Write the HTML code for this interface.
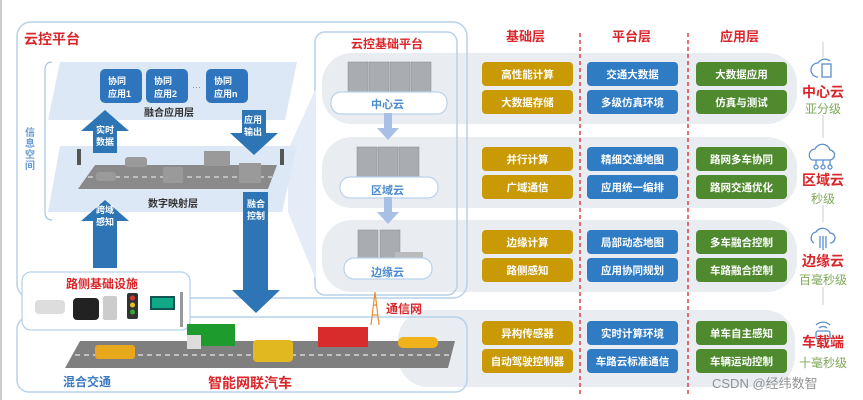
<!DOCTYPE html>
<html><head><meta charset="utf-8"><style>
html,body{margin:0;padding:0;background:#fff;}
svg{display:block;font-family:"Liberation Sans","Noto Sans CJK SC",sans-serif;}
.b{font-weight:bold;}
</style></head><body>
<svg width="863" height="400" viewBox="0 0 863 400" xmlns="http://www.w3.org/2000/svg">
<rect x="0" y="0" width="2" height="400" fill="#ccc"/>
<!-- right bands -->
<g fill="#e9edf2">
<rect x="322" y="53" width="475" height="71" rx="30"/>
<rect x="322" y="137" width="475" height="71" rx="30"/>
<rect x="322" y="220" width="475" height="72" rx="30"/>
<rect x="398" y="310" width="397" height="77" rx="30"/>
</g>
<!-- outer boxes -->
<rect x="17" y="22" width="450" height="276" rx="14" fill="none" stroke="#b8d2ea" stroke-width="1.5"/>
<rect x="17" y="317" width="450" height="75" rx="12" fill="none" stroke="#b8d2ea" stroke-width="1.5"/>
<rect x="315" y="32" width="142" height="263" rx="10" fill="none" stroke="#b8d2ea" stroke-width="1.5"/>
<text x="24" y="44" fill="#d9262b" font-size="14" class="b">云控平台</text>
<text x="351" y="48" fill="#d9262b" font-size="12" class="b">云控基础平台</text>
<!-- wedge -->
<polygon points="288,150 316,88 316,280 288,212" fill="#e3ecf7"/>
<!-- bracket -->
<path d="M52 62 Q45 62 45 70 L45 212 Q45 220 52 220" fill="none" stroke="#a9c4e2" stroke-width="1.2"/>
<text fill="#6a9bd0" font-size="10" class="b"><tspan x="25" y="136">信</tspan><tspan x="25" y="147">息</tspan><tspan x="25" y="158">空</tspan><tspan x="25" y="169">间</tspan></text>
<!-- layers -->
<polygon points="60,62 297,62 285,120 48,120" fill="#dce8f5"/>
<polygon points="60,146 297,146 282,212 48,212" fill="#dce8f5"/>
<g fill="#2f75bd">
<rect x="100" y="69" width="42" height="34" rx="5"/>
<rect x="146" y="69" width="42" height="34" rx="5"/>
<rect x="206" y="69" width="42" height="34" rx="5"/>
</g>
<g fill="#fff" font-size="9" class="b">
<text x="108" y="84">协同</text><text x="108" y="97">应用1</text>
<text x="154" y="84">协同</text><text x="154" y="97">应用2</text>
<text x="214" y="84">协同</text><text x="214" y="97">应用n</text>
</g>
<text x="192" y="90" fill="#888" font-size="9">···</text>
<text x="144" y="116" fill="#333" font-size="10" class="b">融合应用层</text>
<text x="148" y="207" fill="#333" font-size="10" class="b">数字映射层</text>
<!-- road digital -->
<polygon points="95,165 277,165 268,189 78,189" fill="#8a8a8a"/>
<line x1="88" y1="177" x2="272" y2="177" stroke="#ddd" stroke-width="1.2" stroke-dasharray="5,4"/>
<g fill="#9a9a9a"><rect x="125" y="157" width="22" height="10" rx="3"/><rect x="96" y="172" width="20" height="9" rx="3"/><rect x="163" y="167" width="20" height="16" rx="2"/><rect x="204" y="151" width="26" height="15"/><rect x="239" y="163" width="22" height="20"/></g>
<g fill="#555"><rect x="77" y="149" width="4" height="16"/><rect x="280" y="149" width="4" height="16"/></g>
<!-- arrows -->
<g fill="#2e75b6">
<polygon points="105,110 129,131 117,131 117,153 93,153 93,131 81,131"/>
<polygon points="105,200 129,221 117,221 117,268 93,268 93,221 81,221"/>
<polygon points="242,110 266,110 266,133 278,133 254,155 230,133 242,133"/>
<polygon points="243,192 268,192 268,290 280,290 256,313 232,290 243,290"/>
</g>
<g fill="#fff" font-size="9" class="b">
<text x="96" y="133">实时</text><text x="96" y="145">数据</text>
<text x="96" y="213">跨域</text><text x="96" y="225">感知</text>
<text x="244" y="123">应用</text><text x="244" y="135">输出</text>
<text x="247" y="207">融合</text><text x="247" y="219">控制</text>
</g>
<!-- servers -->
<g fill="#a9adb2" stroke="#888" stroke-width="0.5">
<rect x="348" y="62" width="20" height="32"/><rect x="369" y="62" width="20" height="32"/><rect x="390" y="62" width="20" height="32"/><rect x="411" y="62" width="20" height="32"/>
<rect x="357" y="147" width="20" height="32"/><rect x="378" y="147" width="20" height="32"/><rect x="399" y="147" width="20" height="32"/>
<rect x="358" y="230" width="20" height="32"/><rect x="380" y="230" width="20" height="32"/>
</g>
<rect x="395" y="252" width="28" height="7" fill="#bbb"/>
<g fill="#fff" stroke="#b8d2ea" stroke-width="1.2">
<rect x="331" y="92" width="116" height="22" rx="10"/>
<rect x="340" y="177" width="98" height="21" rx="10"/>
<rect x="344" y="258" width="88" height="21" rx="10"/>
</g>
<g fill="#4a8ad0" font-size="11" class="b">
<text x="371" y="108">中心云</text><text x="371" y="194">区域云</text><text x="371" y="276">边缘云</text>
</g>
<g fill="#a9c0e6">
<polygon points="384,113 392,113 392,128 399,128 388,140 377,128 384,128"/>
<polygon points="384,197 392,197 392,212 399,212 388,224 377,212 384,212"/>
</g>
<!-- tower -->
<g stroke="#e8913a" stroke-width="1.2" fill="none"><path d="M371 325 L375 292 L379 325 M372 315 L378 315 M373 305 L377 305"/></g>
<text x="386" y="313" fill="#d9262b" font-size="12" class="b">通信网</text>
<!-- roadside box -->
<polygon points="95,318 40,330 190,330 100,318" fill="#dce8f5"/>
<rect x="22" y="272" width="168" height="58" rx="9" fill="#fff" stroke="#b8d2ea" stroke-width="1.3"/>
<text x="66" y="288" fill="#d9262b" font-size="12" class="b">路侧基础设施</text>
<rect x="35" y="300" width="30" height="14" rx="4" fill="#ddd"/>
<rect x="73" y="298" width="26" height="22" rx="4" fill="#222"/>
<rect x="103" y="296" width="14" height="24" rx="2" fill="#ccc"/>
<rect x="127" y="293" width="11" height="26" rx="2" fill="#333"/>
<circle cx="132.5" cy="298" r="2.5" fill="#d33"/><circle cx="132.5" cy="305" r="2.5" fill="#e8c020"/><circle cx="132.5" cy="312" r="2.5" fill="#3a3"/>
<rect x="150" y="296" width="25" height="14" fill="#155"/><rect x="152" y="298" width="21" height="10" fill="#1a8"/>
<rect x="180" y="292" width="3" height="35" fill="#999"/>
<!-- bottom road -->
<polygon points="80,341 455,341 448,368 65,368" fill="#7f7f7f"/>
<line x1="75" y1="355" x2="450" y2="355" stroke="#e6e6e6" stroke-width="1.2" stroke-dasharray="5,4"/>
<rect x="95" y="345" width="40" height="14" rx="3" fill="#e7a81b"/>
<rect x="187" y="324" width="48" height="22" fill="#1e9b2d"/><rect x="187" y="335" width="14" height="14" fill="#ddd"/>
<rect x="253" y="340" width="40" height="22" rx="4" fill="#e2b820"/>
<rect x="318" y="327" width="50" height="20" fill="#d82c2c"/>
<rect x="398" y="337" width="40" height="11" rx="5" fill="#f0b21a"/>
<text x="63" y="386" fill="#3a78c2" font-size="12" class="b">混合交通</text>
<text x="208" y="388" fill="#d9262b" font-size="14" class="b">智能网联汽车</text>
<!-- headers -->
<g fill="#d9262b" font-size="13" class="b">
<text x="506" y="41">基础层</text><text x="612" y="41">平台层</text><text x="720" y="41">应用层</text>
</g>
<g stroke="#d9262b" stroke-width="1.3" stroke-dasharray="4,3">
<line x1="580" y1="33" x2="580" y2="396"/><line x1="688" y1="33" x2="688" y2="396"/>
</g>
<!-- buttons -->
<g fill="#c99a06">
<rect x="482" y="62" width="91" height="24" rx="4"/><rect x="482" y="90" width="91" height="24" rx="4"/>
<rect x="482" y="147" width="91" height="24" rx="4"/><rect x="482" y="175" width="91" height="24" rx="4"/>
<rect x="482" y="230" width="91" height="24" rx="4"/><rect x="482" y="258" width="91" height="24" rx="4"/>
<rect x="482" y="321" width="91" height="24" rx="4"/><rect x="482" y="349" width="91" height="24" rx="4"/>
</g>
<g fill="#2f7cc4">
<rect x="587" y="62" width="91" height="24" rx="4"/><rect x="587" y="90" width="91" height="24" rx="4"/>
<rect x="587" y="147" width="91" height="24" rx="4"/><rect x="587" y="175" width="91" height="24" rx="4"/>
<rect x="587" y="230" width="91" height="24" rx="4"/><rect x="587" y="258" width="91" height="24" rx="4"/>
<rect x="587" y="321" width="91" height="24" rx="4"/><rect x="587" y="349" width="91" height="24" rx="4"/>
</g>
<g fill="#4f8a2f">
<rect x="696" y="62" width="91" height="24" rx="4"/><rect x="696" y="90" width="91" height="24" rx="4"/>
<rect x="696" y="147" width="91" height="24" rx="4"/><rect x="696" y="175" width="91" height="24" rx="4"/>
<rect x="696" y="230" width="91" height="24" rx="4"/><rect x="696" y="258" width="91" height="24" rx="4"/>
<rect x="696" y="321" width="91" height="24" rx="4"/><rect x="696" y="349" width="91" height="24" rx="4"/>
</g>
<g fill="#fff" font-size="10.5" class="b" text-anchor="middle">
<text x="527.5" y="78">高性能计算</text><text x="527.5" y="106">大数据存储</text>
<text x="527.5" y="163">并行计算</text><text x="527.5" y="191">广域通信</text>
<text x="527.5" y="246">边缘计算</text><text x="527.5" y="274">路侧感知</text>
<text x="527.5" y="337">异构传感器</text><text x="527.5" y="365">自动驾驶控制器</text>
<text x="632.5" y="78">交通大数据</text><text x="632.5" y="106">多级仿真环境</text>
<text x="632.5" y="163">精细交通地图</text><text x="632.5" y="191">应用统一编排</text>
<text x="632.5" y="246">局部动态地图</text><text x="632.5" y="274">应用协同规划</text>
<text x="632.5" y="337">实时计算环境</text><text x="632.5" y="365">车路云标准通信</text>
<text x="741.5" y="78">大数据应用</text><text x="741.5" y="106">仿真与测试</text>
<text x="741.5" y="163">路网多车协同</text><text x="741.5" y="191">路网交通优化</text>
<text x="741.5" y="246">多车融合控制</text><text x="741.5" y="274">车路融合控制</text>
<text x="741.5" y="337">单车自主感知</text><text x="741.5" y="365">车辆运动控制</text>
</g>
<!-- right labels -->
<g stroke="#ccc" stroke-width="1"><line x1="823" y1="42" x2="823" y2="58"/><line x1="823" y1="115" x2="823" y2="138"/><line x1="823" y1="205" x2="823" y2="222"/><line x1="823" y1="287" x2="823" y2="305"/></g>
<g fill="none" stroke="#5a8fcc" stroke-width="1.3">
<path d="M818 77 a7 7 0 0 1 0 -14 a8 8 0 0 1 12 -2"/><rect x="822" y="64" width="9" height="13"/>
<path d="M812 160 a6 6 0 0 1 3 -11 a8 8 0 0 1 15 1 a5 5 0 0 1 -1 10 z M816 160 v5 M823 160 v5 M830 160 v5"/>
<circle cx="816" cy="167" r="2"/><circle cx="823" cy="167" r="2"/><circle cx="830" cy="167" r="2"/>
<path d="M814 243 a6 6 0 0 1 2 -11 a8 8 0 0 1 14 1 a5 5 0 0 1 0 10 M820 236 v12 M823 236 v14 M826 236 v12"/>
<path d="M816 325 a10 10 0 0 1 14 0 M819 328 a6 6 0 0 1 8 0"/><rect x="816" y="331" width="14" height="8" rx="2"/>
</g>
<g fill="#d9262b" font-size="14" class="b" text-anchor="middle">
<text x="823" y="97">中心云</text><text x="823" y="185">区域云</text><text x="823" y="266">边缘云</text><text x="823" y="347">车载端</text>
</g>
<g fill="#7fa85a" font-size="12" text-anchor="middle">
<text x="823" y="113">亚分级</text><text x="823" y="203">秒级</text><text x="823" y="284">百毫秒级</text><text x="823" y="367">十毫秒级</text>
</g>
<text x="712" y="388" fill="#888" font-size="13" opacity="0.9">CSDN @经纬数智</text>
</svg>
</body></html>
